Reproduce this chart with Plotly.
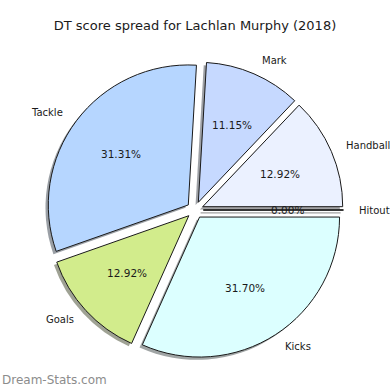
import math
import plotly.graph_objects as go

# ---- data ----
labels = ["Hitout", "Handball", "Mark", "Tackle", "Goals", "Kicks"]
values = [0, 66, 57, 160, 66, 162]
colors = ["#e8e8e8", "#ebf1ff", "#c6d9ff", "#b6d6ff", "#d2ec8c", "#dcffff"]
explode = [0.06, 0.06, 0.06, 0.06, 0.06, 0.06]
title_text = "DT score spread for Lachlan Murphy (2018)"
watermark = "Dream-Stats.com"

# ---- layout geometry ----
W = H = 390
cx_px, cy_px, r_px = 195.0, 210.0, 140.0
max_pull = max(explode)
half = r_px * (1 + max_pull)
dom_x = [(cx_px - half) / W, (cx_px + half) / W]
dom_y = [1 - (cy_px + half) / H, 1 - (cy_px - half) / H]
sh = 2.8  # shadow offset in px
dom_x_sh = [dom_x[0] - sh / W, dom_x[1] - sh / W]
dom_y_sh = [dom_y[0] - sh / H, dom_y[1] - sh / H]


def hex_to_rgb(h):
    h = h.lstrip("#")
    return tuple(int(h[i:i + 2], 16) for i in (0, 2, 4))


shadow_cols = []
for c in colors:
    r, g, b = hex_to_rgb(c)
    shadow_cols.append(f"rgba({int(r*0.3)},{int(g*0.3)},{int(b*0.3)},0.5)")

total = sum(values)
# plotly (counterclockwise) ends the first slice at `rotation`; start at 3 o'clock
rotation = 90 + 360.0 * values[0] / total

fig = go.Figure()
fig.add_trace(go.Pie(
    labels=labels, values=values, sort=False, direction="counterclockwise",
    rotation=rotation, pull=explode, textinfo="none", hoverinfo="skip",
    marker=dict(colors=shadow_cols, line=dict(color="rgba(0,0,0,0)", width=0)),
    domain=dict(x=dom_x_sh, y=dom_y_sh), showlegend=False,
))
fig.add_trace(go.Pie(
    labels=labels, values=values, sort=False, direction="counterclockwise",
    rotation=rotation, pull=explode, textinfo="none",
    marker=dict(colors=colors, line=dict(color="#1a1a1a", width=1)),
    domain=dict(x=dom_x, y=dom_y), showlegend=False,
))

# ---- text placed like matplotlib (labels at 1.1r, pct at 0.6r) ----
annotations = []
shapes = []
cum = 0.0
for lab, v, ex in zip(labels, values, explode):
    theta = math.radians(360.0 * (cum + v / 2.0) / total)
    cum += v
    ct, st = math.cos(theta), math.sin(theta)
    ecx = cx_px + ex * r_px * ct
    ecy = cy_px - ex * r_px * st
    lx = ecx + 1.1 * r_px * ct
    ly = ecy - 1.1 * r_px * st
    px = ecx + 0.6 * r_px * ct
    py = ecy - 0.6 * r_px * st
    if v == 0:
        # zero-width wedge is drawn as a single edge (with its shadow)
        for dx, dy, col in ((-sh, sh, "rgba(70,70,70,0.5)"), (0, 0, "#1a1a1a")):
            shapes.append(dict(
                type="line", xref="paper", yref="paper",
                x0=(ecx + dx) / W, y0=1 - (ecy + dy) / H,
                x1=(ecx + r_px * ct + dx) / W, y1=1 - (ecy - r_px * st + dy) / H,
                line=dict(color=col, width=1.2),
            ))
    annotations.append(dict(
        x=lx / W, y=1 - ly / H, xref="paper", yref="paper", text=lab,
        showarrow=False, xanchor="left" if ct > 1e-9 else "right",
        yanchor="middle", font=dict(family="DejaVu Sans", size=10, color="#1a1a1a"),
    ))
    annotations.append(dict(
        x=px / W, y=1 - py / H, xref="paper", yref="paper",
        text=f"{100.0 * v / total:.2f}%", showarrow=False,
        xanchor="center", yanchor="middle",
        font=dict(family="DejaVu Sans", size=10.5, color="#1a1a1a"),
    ))

annotations.append(dict(
    x=0, y=1 - 380 / H, xref="paper", yref="paper", text=watermark, showarrow=False,
    xanchor="left", yanchor="middle",
    font=dict(family="DejaVu Sans", size=12, color="#8c8c8c"),
))

fig.update_layout(
    width=W, height=H, margin=dict(l=0, r=0, t=0, b=0),
    paper_bgcolor="white", plot_bgcolor="white",
    title=dict(text=title_text, x=0.5, xanchor="center", y=1 - 25 / H, yanchor="middle",
               font=dict(family="DejaVu Sans", size=13, color="#1a1a1a")),
    annotations=annotations, shapes=shapes,
)
fig.write_html(
    "out.html",
    config={"displayModeBar": False},
    post_script="document.body.style.margin='0';document.body.style.padding='0';",
)
